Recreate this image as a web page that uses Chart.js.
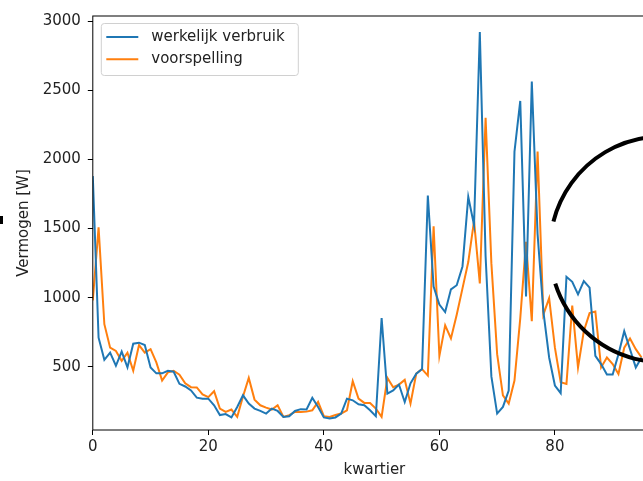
<!DOCTYPE html>
<html>
<head>
<meta charset="utf-8">
<script src="https://cdn.jsdelivr.net/npm/chart.js@4.4.1/dist/chart.umd.min.js"></script>
<style>
  html, body { margin: 0; padding: 0; overflow: hidden; background: #fff; }
</style>
</head>
<body>
<canvas id="grafiek" width="660" height="481"></canvas>
<script>
// Vermogen per kwartier: werkelijk verbruik vs voorspelling
const werkelijk = [
  1880, 710, 550, 602, 507, 610, 495, 667, 674, 657,
  495, 452, 452, 471, 464, 376, 357, 328, 276, 269,
  269, 221, 150, 157, 133, 209, 293, 233, 197, 180,
  161, 197, 180, 137, 142, 180, 193, 190, 275, 209,
  133, 126, 133, 161, 269, 257, 228, 221, 185, 142,
  853, 305, 328, 371, 245, 380, 450, 483, 1740, 1080,
  950, 896, 1060, 1090, 1226, 1730, 1525, 2923, 1300, 430,
  161, 209, 328, 2057, 2424, 1008, 2565, 1460, 900, 567,
  364, 309, 1151, 1115, 1024, 1120, 1072, 579, 519, 443,
  443, 591, 757, 627, 495, 567
];
const voorspelling = [
  980, 1509, 808, 638, 614, 543, 602, 471, 657, 602,
  627, 531, 400, 459, 471, 443, 380, 352, 350, 300,
  280, 323, 197, 173, 190, 137, 285, 419, 262, 221,
  204, 190, 221, 137, 150, 173, 173, 175, 185, 245,
  142, 137, 150, 161, 185, 395, 269, 238, 238, 197,
  137, 419, 352, 371, 405, 233, 450, 483, 436, 1516,
  579, 800, 705, 877, 1067, 1258, 1556, 1103, 2303, 1250,
  591, 293, 233, 400, 850, 1404, 829, 2057, 877, 996,
  638, 388, 376, 943, 495, 757, 888, 900, 495, 567,
  519, 447, 638, 705, 627, 567
];
const kwartieren = werkelijk.map((_, i) => i);
const xTicks = [0, 20, 40, 60, 80];
const yTicks = [500, 1000, 1500, 2000, 2500, 3000];

const lettertype = 'DejaVu Sans';
const tekstKleur = '#222';

// kader, legenda en de zwarte boog tekenen
const kader = {
  id: 'kader',
  afterDatasetsDraw(chart) {
    const { ctx, chartArea: a, scales } = chart;
    ctx.save();

    // zwarte boog (deels buiten beeld)
    const cx = scales.x.getPixelForValue(98.7);
    const cy = scales.y.getPixelForValue(1350);
    ctx.beginPath();
    ctx.arc(cx, cy, 113, -165.7 * Math.PI / 180, 162.3 * Math.PI / 180, false);
    ctx.strokeStyle = '#000';
    ctx.lineWidth = 4;
    ctx.stroke();

    // assen-kader
    ctx.lineWidth = 1;
    ctx.strokeStyle = '#000';
    ctx.strokeRect(a.left, a.top, a.right - a.left, a.bottom - a.top);

    // legenda
    const lx = a.left + 8.5, ly = a.top + 7.5, lw = 197, lh = 52;
    ctx.beginPath();
    ctx.roundRect(lx, ly, lw, lh, 3);
    ctx.fillStyle = 'rgba(255,255,255,0.8)';
    ctx.fill();
    ctx.strokeStyle = '#d0d0d0';
    ctx.stroke();
    ctx.font = '15px "' + lettertype + '"';
    ctx.textBaseline = 'middle';
    ctx.textAlign = 'left';
    chart.data.datasets.forEach((ds, i) => {
      const y = ly + 13.5 + i * 22.3;
      ctx.beginPath();
      ctx.moveTo(lx + 5, y);
      ctx.lineTo(lx + 37, y);
      ctx.strokeStyle = ds.borderColor;
      ctx.lineWidth = 2;
      ctx.stroke();
      ctx.fillStyle = tekstKleur;
      ctx.fillText(ds.label, lx + 50, y);
    });

    // klein streepje aan de linkerrand
    ctx.fillStyle = '#000';
    ctx.fillRect(0, 216, 3, 8);
    ctx.restore();
  }
};

new Chart(document.getElementById('grafiek'), {
  type: 'line',
  data: {
    labels: kwartieren,
    datasets: [
      {
        label: 'werkelijk verbruik',
        data: werkelijk,
        borderColor: '#1f77b4',
        borderWidth: 2,
        pointRadius: 0,
        tension: 0,
        fill: false
      },
      {
        label: 'voorspelling',
        data: voorspelling,
        borderColor: '#ff7f0e',
        borderWidth: 2,
        pointRadius: 0,
        tension: 0,
        fill: false
      }
    ]
  },
  options: {
    responsive: false,
    animation: false,
    layout: { padding: { top: 12, right: 4, left: 0, bottom: 0 } },
    plugins: {
      legend: { display: false },
      tooltip: { enabled: false }
    },
    scales: {
      x: {
        type: 'linear',
        min: 0,
        max: 97.5,
        afterFit: s => { s.height = 51; },
        afterBuildTicks: s => { s.ticks = xTicks.map(v => ({ value: v })); },
        border: { display: false },
        grid: { drawOnChartArea: false, tickLength: 5, tickColor: '#000' },
        ticks: {
          padding: 3, color: tekstKleur, maxRotation: 0, autoSkip: false,
          font: { family: lettertype, size: 15 },
          callback: v => String(v)
        },
        title: {
          display: true,
          text: 'kwartier',
          color: tekstKleur,
          font: { family: lettertype, size: 15 },
          padding: { top: 0, bottom: 2 }
        }
      },
      y: {
        min: 42,
        max: 3039,
        afterFit: s => { s.width = 92.8; },
        afterBuildTicks: s => { s.ticks = yTicks.map(v => ({ value: v })); },
        border: { display: false },
        grid: { drawOnChartArea: false, tickLength: 5, tickColor: '#000' },
        ticks: {
          padding: 7, color: tekstKleur, autoSkip: false,
          font: { family: lettertype, size: 15 },
          callback: v => String(v)
        },
        title: {
          display: true,
          text: 'Vermogen [W]',
          color: tekstKleur,
          font: { family: lettertype, size: 15 },
          padding: { top: 15, bottom: 0 }
        }
      }
    }
  },
  plugins: [kader]
});
</script>
</body>
</html>
